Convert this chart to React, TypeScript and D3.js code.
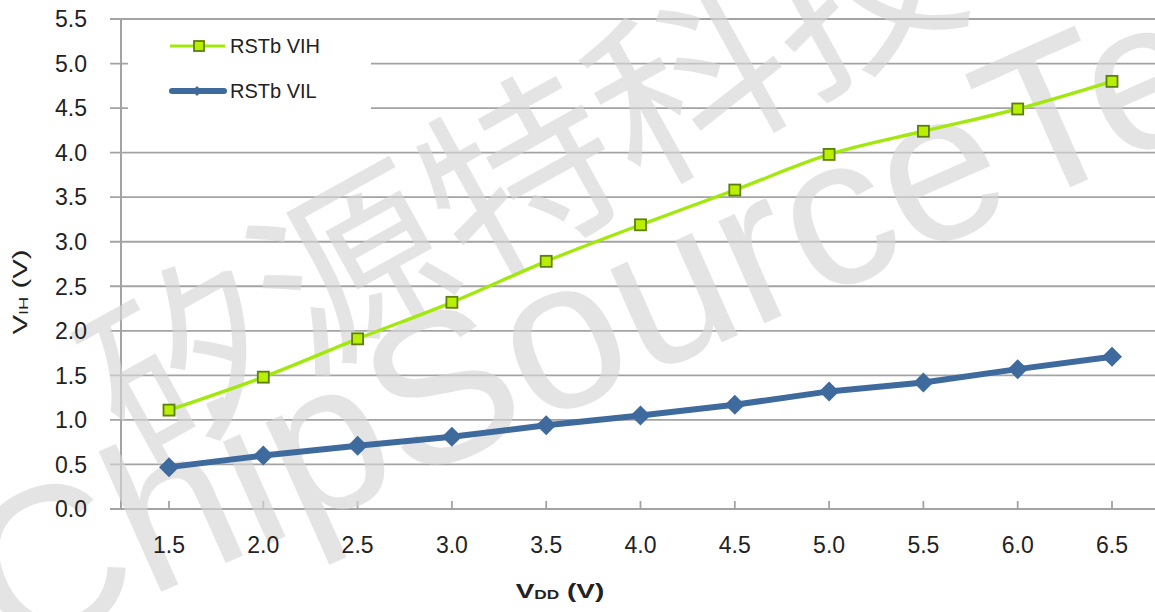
import React from 'react';
import * as d3 from 'd3';

// supply voltage categories (V)
const vdd = [1.5, 2.0, 2.5, 3.0, 3.5, 4.0, 4.5, 5.0, 5.5, 6.0, 6.5];
// input thresholds (V)
const rstbVih = [1.11, 1.48, 1.91, 2.32, 2.78, 3.19, 3.58, 3.98, 4.24, 4.49, 4.8];
const rstbVil = [0.47, 0.6, 0.71, 0.81, 0.94, 1.05, 1.17, 1.32, 1.42, 1.57, 1.71];
const yTicks = [0, 0.5, 1.0, 1.5, 2.0, 2.5, 3.0, 3.5, 4.0, 4.5, 5.0, 5.5];
const xTickLabels = vdd.map(v => v.toFixed(1));
const seriesNames = ['RSTb VIH', 'RSTb VIL'];

const W = 1155;
const H = 612;
const FONT = '"Liberation Sans", Arial, sans-serif';
const GRID = '#a3a3a3';
const VIH_LINE = '#a2e80c';
const VIH_FILL = '#b9f000';
const VIH_EDGE = '#5e7f0c';
const VIL_COLOR = '#3e6a9e';

export default function App() {
  const x = d3.scaleLinear().domain([1.5, 6.5]).range([169, 1112]);
  const y = d3.scaleLinear().domain([0, 5.5]).range([509, 19]);

  const axisLeft = 121;
  const plotRight = W;

  const vihPts = vdd.map((v, i) => [x(v), y(rstbVih[i])] as [number, number]);
  const vilPts = vdd.map((v, i) => [x(v), y(rstbVil[i])] as [number, number]);

  const smooth = d3.line().curve(d3.curveCatmullRom.alpha(0.5));
  const straight = d3.line();

  const diamond = (cx: number, cy: number, r: number) =>
    `M${cx},${cy - r}L${cx + r},${cy}L${cx},${cy + r}L${cx - r},${cy}Z`;

  return (
    <svg width={W} height={H} style={{ position: 'absolute', left: 0, top: 0, background: '#fff' }}>
      {/* gridlines */}
      {yTicks.map(t => (
        <line key={'g' + t} x1={110} x2={plotRight} y1={y(t)} y2={y(t)}
          stroke={GRID} strokeWidth={t === 0 ? 2 : 1.8} />
      ))}
      {/* y axis */}
      <line x1={axisLeft} x2={axisLeft} y1={y(5.5)} y2={y(0)} stroke={GRID} strokeWidth={2} />
      {/* x ticks (inside) */}
      {vdd.map(v => (
        <line key={'xt' + v} x1={x(v)} x2={x(v)} y1={y(0) - 8} y2={y(0)} stroke={GRID} strokeWidth={1.8} />
      ))}

      {/* legend background */}
      <rect x={128} y={25} width={243} height={108} fill="#fff" />

      {/* watermark */}
      <g fill="#d6d6d6" opacity={0.65}>
        <text transform="translate(135,470) rotate(-29)" fontSize={192}
          fontFamily='"Noto Sans CJK SC", sans-serif'>矽源特科技</text>
        <text transform="translate(8,660) rotate(-24)" fontSize={212} fontFamily={FONT}>ChipSourceTek</text>
      </g>

      {/* y tick labels */}
      {yTicks.map(t => (
        <text key={'yl' + t} x={87} y={y(t)} dy="0.36em" textAnchor="end"
          fontFamily={FONT} fontSize={23} fill="#222">{t.toFixed(1)}</text>
      ))}
      {/* x tick labels */}
      {vdd.map((v, i) => (
        <text key={'xl' + v} x={x(v)} y={553} textAnchor="middle"
          fontFamily={FONT} fontSize={23} fill="#222">{xTickLabels[i]}</text>
      ))}

      {/* axis titles */}
      <text transform="translate(27,292) rotate(-90) scale(1.4,1)" textAnchor="middle"
        fontFamily={FONT} fontSize={21} fill="#222">
        V<tspan fontSize={13} dy={1}>IH</tspan><tspan dy={-1}> (V)</tspan>
      </text>
      <text transform="translate(560,598) scale(1.33,1)" textAnchor="middle"
        fontFamily={FONT} fontSize={21} fontWeight="bold" fill="#222">
        V<tspan fontSize={13} dy={1}>DD</tspan><tspan dy={-1}> (V)</tspan>
      </text>

      {/* series */}
      <path d={smooth(vihPts) || ''} fill="none" stroke={VIH_LINE} strokeWidth={3.4} />
      {vihPts.map(([px, py], i) => (
        <rect key={'vm' + i} x={px - 5.5} y={py - 5.5} width={11} height={11}
          fill={VIH_FILL} stroke={VIH_EDGE} strokeWidth={1.8} />
      ))}
      <path d={straight(vilPts) || ''} fill="none" stroke={VIL_COLOR} strokeWidth={6} strokeLinejoin="round" />
      {vilPts.map(([px, py], i) => (
        <path key={'lm' + i} d={diamond(px, py, 10)} fill={VIL_COLOR} />
      ))}

      {/* legend */}
      <line x1={170} x2={225} y1={46} y2={46} stroke={VIH_LINE} strokeWidth={3} />
      <rect x={194} y={41} width={10} height={10} fill={VIH_FILL} stroke={VIH_EDGE} strokeWidth={1.8} />
      <text x={230} y={53} fontFamily={FONT} fontSize={20} fill="#222">{seriesNames[0]}</text>
      <line x1={172} x2={224} y1={91} y2={91} stroke={VIL_COLOR} strokeWidth={6} strokeLinecap="round" />
      <path d={diamond(197, 91, 5)} fill={VIL_COLOR} />
      <text x={230} y={98} fontFamily={FONT} fontSize={20} fill="#222">{seriesNames[1]}</text>
    </svg>
  );
}
